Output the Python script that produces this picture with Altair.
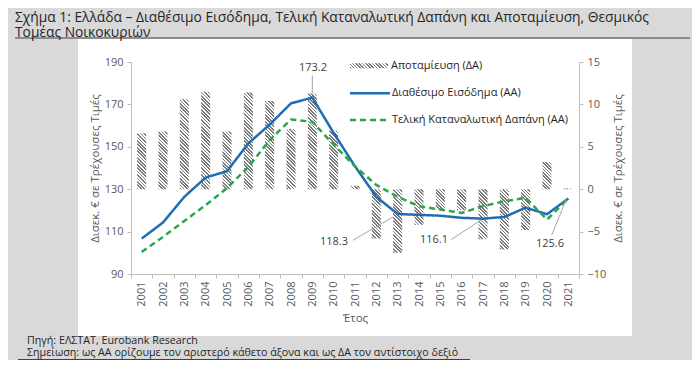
import altair as alt

# ---------------- data ----------------
years = list(range(2001, 2022))
income = [106.7, 114.3, 126.4, 135.5, 138.5, 151.6, 160.5, 170.5, 173.2, 156.5, 140.8,
          126.4, 118.3, 117.9, 117.5, 116.5, 116.1, 116.9, 121.3, 118.2, 125.6]
consumption = [100.4, 107.5, 115.0, 122.5, 130.5, 140.5, 153.2, 162.9, 161.8, 151.0, 140.8,
               132.0, 126.4, 122.0, 120.4, 118.8, 122.0, 124.3, 125.9, 115.7, 125.6]
savings = [6.6, 6.8, 10.6, 11.5, 6.8, 11.4, 10.4, 7.1, 11.3, 6.9, 0.4,
           -5.8, -7.5, -4.2, -2.4, -2.5, -5.9, -7.1, -4.8, 3.2, 0.1]

s_sav = "Αποταμίευση (ΔΑ)"
s_inc = "Διαθέσιμο Εισόδημα (ΑΑ)"
s_con = "Τελική Καταναλωτική Δαπάνη (ΑΑ)"

ann_text = ["173.2", "118.3", "116.1", "125.6"]
ann_tx = [2009.03, 2010.67, 2015.36, 2020.14]
ann_ty = [187.2, 105.1, 106.2, 104.0]
ann_align = ["center", "right", "right", "center"]
lead_x1 = [2009.0, 2010.9, 2015.5, 2020.22]
lead_y1 = [183.6, 105.9, 106.2, 108.3]
lead_x2 = [2009.0, 2012.78, 2016.9, 2020.9]
lead_y2 = [175.2, 116.9, 115.4, 125.1]

# ---------------- layout ----------------
W, H = 448, 212
FONT = "Open Sans"
BLUE = "#1f6db3"
GREEN = "#2ca54a"
GRAY_TXT = "#595959"
AXIS_C = "#bfbfbf"
R_DOM = [-10, 15]
L_DOM = [90, 190]
PX_PER_UNIT = H / (R_DOM[1] - R_DOM[0])
BAR_W = 9


def hatch(w, h, period=3.4, dark="#7a7a7a", light="#ffffff"):
    """Diagonal (\\\\) stripes as an objectBoundingBox linear gradient."""
    w = max(w, 0.5)
    h = max(h, 0.5)
    n = max(1, round((w + h) / period))
    k = (w + h) / (w * w + h * h)
    stops = []
    for i in range(n):
        a, b, c = i / n, (i + 0.5) / n, (i + 1) / n
        stops += [{"offset": a, "color": dark}, {"offset": b, "color": dark},
                  {"offset": b, "color": light}, {"offset": c, "color": light}]
    return {"gradient": "linear", "x1": 0, "y1": 1, "x2": w * k, "y2": 1 - h * k,
            "stops": stops}


bar_records = [{"year": y, "savings": v, "grad": hatch(BAR_W, abs(v) * PX_PER_UNIT)}
               for y, v in zip(years, savings)]
line_records = ([{"year": y, "value": v, "series": s_inc} for y, v in zip(years, income)] +
                [{"year": y, "value": v, "series": s_con} for y, v in zip(years, consumption)])
ann_records = [{"t": t, "x": x, "y": y, "al": a} for t, x, y, a in zip(ann_text, ann_tx, ann_ty, ann_align)]
lead_records = [{"x": a, "y": b, "x2": c, "y2": d} for a, b, c, d in zip(lead_x1, lead_y1, lead_x2, lead_y2)]

xband = alt.Scale(type="band", domain=years, paddingInner=0, paddingOuter=0)
xq = alt.Scale(domain=[2000.5, 2021.5], nice=False, zero=False)
yl = alt.Scale(domain=L_DOM, nice=False, zero=False)
yr = alt.Scale(domain=R_DOM, nice=False, zero=False)

one = alt.Data(values=[{}])

# ---------------- decorations ----------------
underline = alt.Chart(one).mark_rule(color="#404040", strokeWidth=1).encode(
    x=alt.value(-116), x2=alt.value(559), y=alt.value(-24))
panel = alt.Chart(one).mark_rect(color="#ffffff").encode(
    x=alt.value(-53), x2=alt.value(501), y=alt.value(-23), y2=alt.value(274))
title1 = alt.Chart(one).mark_text(
    text="Σχήμα 1: Ελλάδα – Διαθέσιμο Εισόδημα, Τελική Καταναλωτική Δαπάνη και Αποταμίευση, Θεσμικός",
    align="left", baseline="middle", font=FONT, fontSize=13.8, color="#262626").encode(
    x=alt.value(-116), y=alt.value(-44))
title2 = alt.Chart(one).mark_text(
    text="Τομέας Νοικοκυριών", align="left", baseline="middle", font=FONT, fontSize=13.8,
    color="#262626").encode(x=alt.value(-116), y=alt.value(-29.5))
foot1 = alt.Chart(one).mark_text(
    text="Πηγή: ΕΛΣΤΑΤ, Eurobank Research", align="left", baseline="middle", font=FONT,
    fontSize=10.7, color="#262626").encode(x=alt.value(-104), y=alt.value(278.5))
foot2 = alt.Chart(one).mark_text(
    text="Σημείωση: ως ΑΑ ορίζουμε τον αριστερό κάθετο άξονα και ως ΔΑ τον αντίστοιχο δεξιό",
    align="left", baseline="middle", font=FONT, fontSize=10.7, color="#262626").encode(
    x=alt.value(-104), y=alt.value(290.5))
footline = alt.Chart(one).mark_rule(color="#404040", strokeWidth=1).encode(
    x=alt.value(-113), x2=alt.value(339), y=alt.value(297.5))

axis_common = dict(zindex=1, domainColor=AXIS_C, tickColor=AXIS_C, labelColor=GRAY_TXT,
                   labelFont=FONT, labelFontSize=11, titleFont=FONT, titleFontSize=11.5,
                   titleFontWeight="normal", titleColor=GRAY_TXT, grid=False, tickSize=4)

# ---------------- bars (right axis) ----------------
bars = alt.Chart(alt.Data(values=bar_records)).mark_bar(size=BAR_W).encode(
    x=alt.X("year:O", scale=xband,
            axis=alt.Axis(title="Έτος", labelAngle=270, tickBand="extent",
                          labelPadding=3, titleY=44, titleBaseline="middle", **axis_common)),
    y=alt.Y("savings:Q", scale=yr,
            axis=alt.Axis(orient="right", values=[-10, -5, 0, 5, 10, 15],
                          labelPadding=4, title="Δισεκ. € σε Τρέχουσες Τιμές",
                          titleAngle=270, titleX=39, titleY=H / 2,
                          titleAlign="center", titleBaseline="middle", **axis_common)),
    fill=alt.Fill("grad:N", scale=None, legend=None),
)

# ---------------- lines (left axis) ----------------
lines = alt.Chart(alt.Data(values=line_records)).mark_line(strokeWidth=2.5).encode(
    x=alt.X("year:O", scale=xband, axis=None, bandPosition=0.5),
    y=alt.Y("value:Q", scale=yl,
            axis=alt.Axis(orient="left", values=[90, 110, 130, 150, 170, 190],
                          labelPadding=4, title="Δισεκ. € σε Τρέχουσες Τιμές",
                          titleAngle=270, titleX=-36, titleY=H / 2,
                          titleAlign="center", titleBaseline="middle", **axis_common)),
    color=alt.Color("series:N", scale=alt.Scale(domain=[s_inc, s_con], range=[BLUE, GREEN]),
                    legend=None),
    strokeDash=alt.StrokeDash("series:N",
                              scale=alt.Scale(domain=[s_inc, s_con], range=[[1, 0], [6, 4]]),
                              legend=None),
)

# ---------------- annotations ----------------
leaders = alt.Chart(alt.Data(values=lead_records)).mark_rule(color="#a6a6a6", strokeWidth=1).encode(
    x=alt.X("x:Q", scale=xq, axis=None), x2="x2:Q",
    y=alt.Y("y:Q", scale=yl, axis=None), y2="y2:Q")
ann_c = alt.Chart(alt.Data(values=ann_records)).transform_filter(
    "datum.al == 'center'").mark_text(align="center", baseline="middle", font=FONT,
                                      fontSize=11, color="#404040").encode(
    x=alt.X("x:Q", scale=xq, axis=None), y=alt.Y("y:Q", scale=yl, axis=None), text="t:N")
ann_r = alt.Chart(alt.Data(values=ann_records)).transform_filter(
    "datum.al == 'right'").mark_text(align="right", baseline="middle", font=FONT,
                                     fontSize=11, color="#404040").encode(
    x=alt.X("x:Q", scale=xq, axis=None), y=alt.Y("y:Q", scale=yl, axis=None), text="t:N")

# ---------------- legend ----------------
leg_sav = alt.Chart(one).mark_rect().encode(
    x=alt.value(219), x2=alt.value(257), y=alt.value(1.3), y2=alt.value(6.3),
    fill=alt.value(hatch(38, 5)))
leg_inc = alt.Chart(one).mark_rule(color=BLUE, strokeWidth=2.5).encode(
    x=alt.value(219), x2=alt.value(259), y=alt.value(31.3))
leg_con = alt.Chart(one).mark_rule(color=GREEN, strokeWidth=2.5, strokeDash=[6, 4]).encode(
    x=alt.value(219), x2=alt.value(259), y=alt.value(58))
leg_t1 = alt.Chart(one).mark_text(text=s_sav, align="left", baseline="middle", font=FONT,
                                  fontSize=11, color="#262626").encode(
    x=alt.value(260), y=alt.value(3.8))
leg_t2 = alt.Chart(one).mark_text(text=s_inc, align="left", baseline="middle", font=FONT,
                                  fontSize=11, color="#262626").encode(
    x=alt.value(261), y=alt.value(31.3))
leg_t3 = alt.Chart(one).mark_text(text=s_con, align="left", baseline="middle", font=FONT,
                                  fontSize=11, color="#262626").encode(
    x=alt.value(261), y=alt.value(58))

chart = alt.layer(
    underline, panel, title1, title2, foot1, foot2, footline,
    bars, lines, leaders, ann_c, ann_r,
    leg_sav, leg_inc, leg_con, leg_t1, leg_t2, leg_t3,
).resolve_scale(
    x="independent", y="independent"
).properties(
    width=W, height=H, autosize="none",
    padding={"left": 123, "top": 54, "right": 113, "bottom": 86},
    background="#d9d9d9",
).configure_view(
    stroke=None
)

chart.save("out.html", embed_options={"renderer": "svg", "actions": False})
